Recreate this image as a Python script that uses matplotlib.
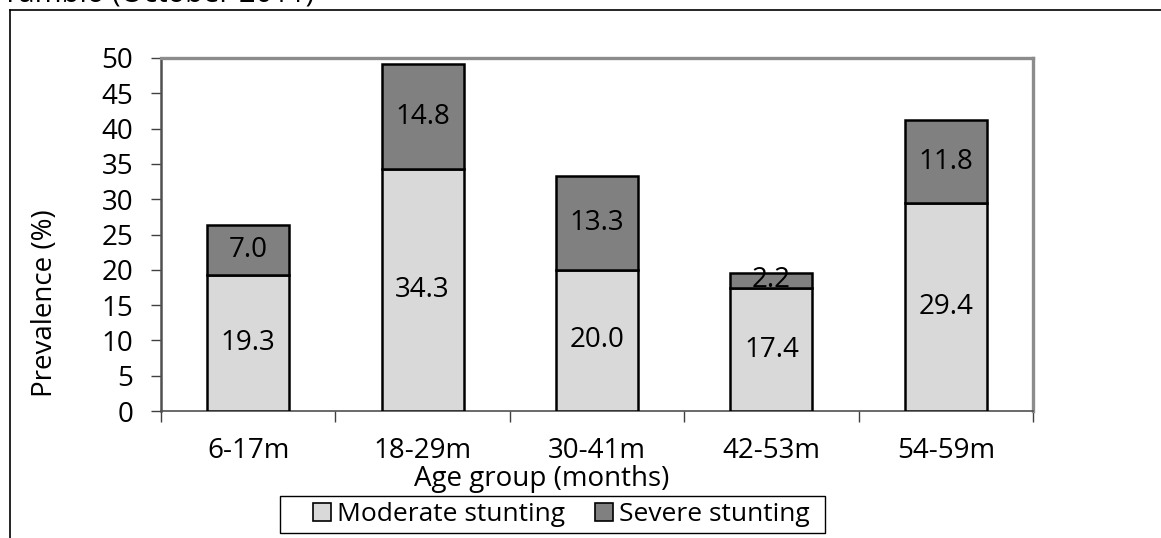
import matplotlib
matplotlib.use("Agg")
import matplotlib.pyplot as plt
from matplotlib.lines import Line2D
from matplotlib.patches import Patch, Rectangle

plt.rcParams['font.family'] = ['Open Sans', 'DejaVu Sans']

age_groups = ["6-17m", "18-29m", "30-41m", "42-53m", "54-59m"]
moderate = [19.3, 34.3, 20.0, 17.4, 29.4]
severe = [7.0, 14.8, 13.3, 2.2, 11.8]
series_names = ["Moderate stunting", "Severe stunting"]
y_ticks = [0, 5, 10, 15, 20, 25, 30, 35, 40, 45, 50]

W, H = 1161, 538
fig = plt.figure(figsize=(W / 100, H / 100), dpi=100)
ax = fig.add_axes([161 / W, 1 - 411 / H, (1033 - 161) / W, (411 - 58) / H])

mod_color = "#D9D9D9"
sev_color = "#808080"
x = list(range(len(age_groups)))
bw = 0.47
ax.bar(x, moderate, width=bw, color=mod_color, edgecolor="black", linewidth=1.8, zorder=3)
ax.bar(x, severe, width=bw, bottom=moderate, color=sev_color, edgecolor="black",
       linewidth=1.8, zorder=3)

fs = 20
for xi, m, s in zip(x, moderate, severe):
    ax.text(xi, m / 2, f"{m:.1f}", ha="center", va="center", fontsize=fs, zorder=4)
    ax.text(xi, m + s / 2, f"{s:.1f}", ha="center", va="center", fontsize=fs, zorder=4)

ax.set_xlim(-0.5, len(age_groups) - 0.5)
ax.set_ylim(0, 50)
ax.set_yticks(y_ticks)
ax.tick_params(axis="y", labelsize=fs, length=7, width=1, color="#404040", pad=13)

ax.set_xticks(x)
ax.set_xticklabels(age_groups)
ax.tick_params(axis="x", which="major", length=0, labelsize=fs, pad=19)
ax.set_xticks([i - 0.5 for i in range(len(age_groups) + 1)], minor=True)
ax.tick_params(axis="x", which="minor", length=8, width=1, color="#404040")

for side in ("top", "right"):
    ax.spines[side].set_color("#8C8C8C")
    ax.spines[side].set_linewidth(2.4)
ax.spines["left"].set_color("#505050")
ax.spines["left"].set_linewidth(1.8)
ax.spines["bottom"].set_color("#505050")
ax.spines["bottom"].set_linewidth(1.2)

fig.text(542 / W, 1 - 479 / H, "Age group (months)", ha="center", va="center", fontsize=fs)
fig.text(45 / W, 1 - 303 / H, "Prevalence (%)", ha="center", va="center",
         rotation=90, fontsize=fs)

# Title partly above the frame
fig.text(2 / W, 1 - 2 / H, "Yambio (October 2011)", ha="left", va="baseline", fontsize=21)

# Outer frame lines
fig.add_artist(Line2D([10 / W, 1], [1 - 10 / H, 1 - 10 / H], color="black", lw=1.2,
                      transform=fig.transFigure))
fig.add_artist(Line2D([10 / W, 10 / W], [0, 1 - 10 / H], color="black", lw=1.2,
                      transform=fig.transFigure))

# Legend box
fig.add_artist(Rectangle((280 / W, 1 - 533 / H), (825 - 280) / W, (533 - 496) / H,
                         transform=fig.transFigure, facecolor="white",
                         edgecolor="black", linewidth=1.0, zorder=1))
handles = [Patch(facecolor=mod_color, edgecolor="black", linewidth=1.2),
           Patch(facecolor=sev_color, edgecolor="black", linewidth=1.2)]
leg = fig.legend(handles, series_names, loc="center", ncol=2,
                 bbox_to_anchor=(561 / W, 1 - 514.5 / H), fontsize=19,
                 frameon=False,
                 handlelength=0.7, handleheight=0.7, handletextpad=0.2,
                 columnspacing=1.15, borderpad=0.0, borderaxespad=0)
leg.set_zorder(2)

fig.savefig("out.png", dpi=100)
